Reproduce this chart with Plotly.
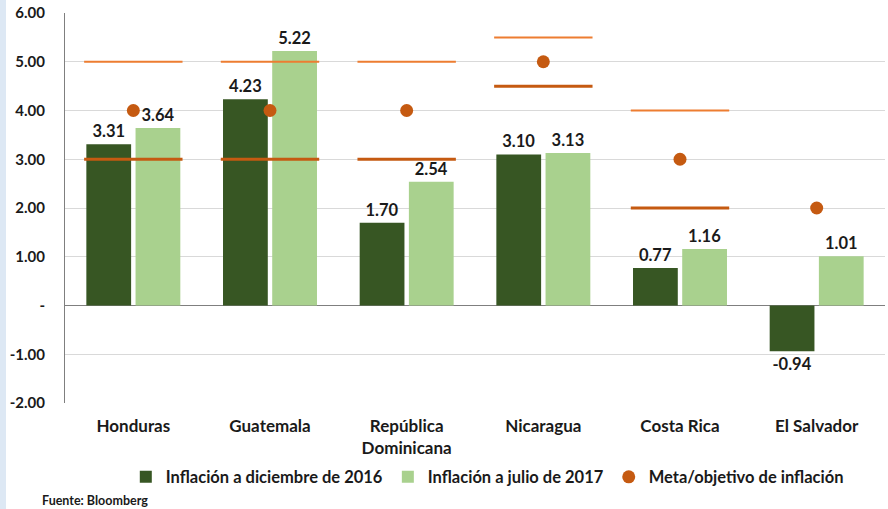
import plotly.graph_objects as go

# Inflation data (%)
countries = ["Honduras", "Guatemala", "República<br>Dominicana", "Nicaragua", "Costa Rica", "El Salvador"]
infl_dic_2016 = [3.31, 4.23, 1.70, 3.10, 0.77, -0.94]
infl_jul_2017 = [3.64, 5.22, 2.54, 3.13, 1.16, 1.01]
meta = [4.0, 4.0, 4.0, 5.0, 3.0, 2.0]
rango_bajo = [3.0, 3.0, 3.0, 4.5, 2.0, None]
rango_alto = [5.0, 5.0, 5.0, 5.5, 4.0, None]

y_ticks = [-2, -1, 0, 1, 2, 3, 4, 5, 6]
y_ticktext = ["-2.00", "-1.00", "-", "1.00", "2.00", "3.00", "4.00", "5.00", "6.00"]

DARK = '#375623'
LIGHT = '#a9d18e'
ORANGE = '#c55a11'
ORANGE_LIGHT = '#ed7d31'
FONT = 'Lato, "Open Sans", sans-serif'

xs = list(range(len(countries)))
half = 0.36


def segments(values):
    sx, sy = [], []
    for i, v in zip(xs, values):
        if v is None:
            continue
        sx += [i - half, i + half, None]
        sy += [v, v, None]
    return sx, sy


fig = go.Figure()

for name, vals, color in [
    ("Inflación a diciembre de 2016", infl_dic_2016, DARK),
    ("Inflación a julio de 2017", infl_jul_2017, LIGHT),
]:
    fig.add_trace(go.Bar(
        x=xs, y=vals, name=name,
        marker=dict(color=color, line=dict(width=0)),
        texttemplate="%{y:.2f}", textposition="outside",
        textfont=dict(size=16.5, color='#1a1a1a', family=FONT, weight='bold'),
        cliponaxis=False,
    ))

hx, hy = segments(rango_alto)
fig.add_trace(go.Scatter(x=hx, y=hy, mode='lines', showlegend=False,
                         line=dict(color=ORANGE_LIGHT, width=2), hoverinfo='skip'))
lx, ly = segments(rango_bajo)
fig.add_trace(go.Scatter(x=lx, y=ly, mode='lines', showlegend=False,
                         line=dict(color=ORANGE, width=3), hoverinfo='skip'))

fig.add_trace(go.Scatter(
    x=xs, y=meta, mode='markers', name="Meta/objetivo de inflación",
    marker=dict(color=ORANGE, size=13),
))

fig.update_layout(
    width=888, height=509,
    paper_bgcolor='white', plot_bgcolor='white',
    font=dict(family=FONT, color='#1a1a1a', size=14),
    barmode='group', bargap=0.28, bargroupgap=0.09,
    margin=dict(l=65, r=3, t=13, b=106),
    legend=dict(
        orientation='h', x=0.515, xanchor='center', y=-0.19, yanchor='middle',
        font=dict(size=16.5, weight='bold', family=FONT), traceorder='normal',
        itemwidth=30,
    ),
    shapes=[dict(
        type='rect', xref='paper', yref='paper',
        x0=-65 / 820, x1=-59 / 820, y0=-0.3, y1=1.05,
        fillcolor='#dde8f4', line=dict(width=0), layer='below',
    )],
    annotations=[dict(
        text="Fuente: Bloomberg", xref='paper', yref='paper',
        x=-25 / 820, y=-0.249, xanchor='left', yanchor='middle', showarrow=False,
        font=dict(size=12.5, weight='bold', family=FONT, color='#1a1a1a'),
    )],
)

fig.update_xaxes(
    range=[-0.5, 5.5], tickvals=xs, ticktext=countries,
    showgrid=False, zeroline=False, ticks='',
    tickfont=dict(size=17, weight='bold'), ticklabelstandoff=11,
)
fig.update_yaxes(
    range=[-2, 6], tickvals=y_ticks, ticktext=y_ticktext,
    showgrid=True, gridcolor='#d9d9d9', gridwidth=1,
    zeroline=True, zerolinecolor='#7f7f7f', zerolinewidth=1,
    showline=True, linecolor='#7f7f7f', linewidth=1,
    tickfont=dict(size=15, weight='bold'), ticks='', ticklabelstandoff=16,
)

fig.write_html("out.html", config={'displayModeBar': False},
               post_script="document.body.style.margin='0';")
